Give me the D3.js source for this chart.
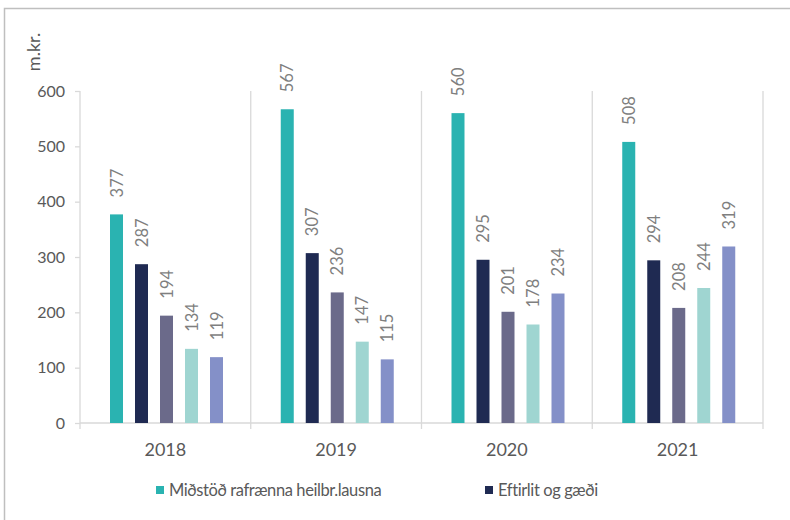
<!DOCTYPE html>
<html>
<head>
<meta charset="utf-8">
<script src="https://cdn.jsdelivr.net/npm/d3@7"></script>
<style>
  body { margin: 0; background: #fff; }
  text { font-family: Lato, "Open Sans", sans-serif; }
</style>
</head>
<body>
<script>
// chart data
const years = ['2018', '2019', '2020', '2021']
const seriesNames = ['Miðstöð rafrænna heilbr.lausna', 'Eftirlit og gæði', 'Röð 3', 'Röð 4', 'Röð 5']
const values = [
  [377, 567, 560, 508],
  [287, 307, 295, 294],
  [194, 236, 201, 208],
  [134, 147, 178, 244],
  [119, 115, 234, 319]
]
const colors = ['#2ab3b1', '#1f2a52', '#6b6a8a', '#9fd5d1', '#8490c8']
const yTicks = [0, 100, 200, 300, 400, 500, 600]
const legendShown = [0, 1]

const width = 790
const height = 520

const svg = d3.select('body').append('svg')
  .attr('width', width)
  .attr('height', height)

// chart border
svg.append('rect')
  .attr('x', 4.5).attr('y', 8.5)
  .attr('width', 800).attr('height', 520)
  .attr('fill', 'none')
  .attr('stroke', '#bfbfbf')
  .attr('stroke-width', 1.5)

const margin = { top: 91, left: 80 }
const innerW = 683
const innerH = 332

const g = svg.append('g').attr('transform', `translate(${margin.left},${margin.top})`)

const x = d3.scaleBand().domain(years).range([0, innerW]).padding(0)
const xInner = d3.scaleBand().domain(d3.range(seriesNames.length))
  .range([30, 143]).paddingInner(0.48).paddingOuter(0)
const y = d3.scaleLinear().domain([0, 600]).range([innerH, 0])

// group separators
g.selectAll('line.sep')
  .data(d3.range(years.length + 1))
  .enter().append('line')
  .attr('class', 'sep')
  .attr('x1', i => i * x.step()).attr('x2', i => i * x.step())
  .attr('y1', 0).attr('y2', innerH + 6)
  .attr('stroke', '#d9d9d9').attr('stroke-width', 1.3)

// x axis line
g.append('line')
  .attr('x1', 0).attr('x2', innerW)
  .attr('y1', innerH).attr('y2', innerH)
  .attr('stroke', '#d9d9d9').attr('stroke-width', 1.3)

// y axis
const yAxis = d3.axisLeft(y).tickValues(yTicks).tickSize(5).tickPadding(10)
g.append('g').call(yAxis)
  .call(a => a.select('.domain').remove())
  .call(a => a.selectAll('.tick line').attr('stroke', '#d9d9d9').attr('stroke-width', 1.3))
  .call(a => a.selectAll('.tick text')
    .attr('font-size', 16).attr('fill', '#595959')
    .style('font-family', 'Lato, sans-serif'))

// m.kr. label
svg.append('text')
  .text('m.kr.')
  .attr('transform', 'translate(40,52) rotate(-90)')
  .attr('text-anchor', 'middle')
  .attr('font-size', 18)
  .attr('fill', '#595959')

// category labels
g.selectAll('text.cat')
  .data(years)
  .enter().append('text')
  .attr('class', 'cat')
  .attr('x', d => x(d) + x.bandwidth() / 2)
  .attr('y', innerH + 33)
  .attr('text-anchor', 'middle')
  .attr('font-size', 18)
  .attr('fill', '#595959')
  .text(d => d)

// bars
const groups = g.selectAll('g.year')
  .data(years)
  .enter().append('g')
  .attr('transform', d => `translate(${x(d)},0)`)

groups.each(function (yr, yi) {
  const gg = d3.select(this)
  seriesNames.forEach((s, si) => {
    const v = values[si][yi]
    gg.append('rect')
      .attr('x', xInner(si))
      .attr('y', y(v))
      .attr('width', xInner.bandwidth())
      .attr('height', innerH - y(v))
      .attr('fill', colors[si])
    gg.append('text')
      .attr('transform', `translate(${xInner(si) + xInner.bandwidth() / 2 + 6},${y(v) - 17}) rotate(-90)`)
      .attr('font-size', 16.5)
      .attr('fill', '#7f7f7f')
      .text(v)
  })
})

// legend
const legendX = [156, 485]
const lg = svg.selectAll('g.legend')
  .data(legendShown)
  .enter().append('g')
  .attr('transform', (d, i) => `translate(${legendX[i]},486)`)
lg.append('rect')
  .attr('width', 8).attr('height', 8)
  .attr('fill', d => colors[d])
lg.append('text')
  .attr('x', 13).attr('y', 10)
  .attr('font-size', 16.5)
  .attr('letter-spacing', -0.4)
  .attr('fill', '#595959')
  .text(d => seriesNames[d])
</script>
</body>
</html>
